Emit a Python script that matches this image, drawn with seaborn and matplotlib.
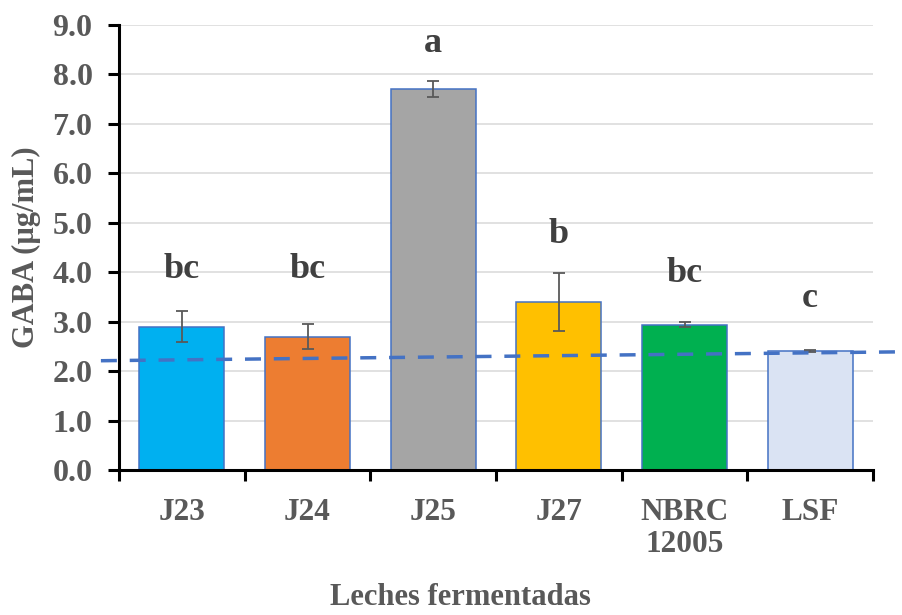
import matplotlib
matplotlib.use("Agg")
import matplotlib.pyplot as plt
import seaborn as sns
import pandas as pd
import numpy as np

categories = ["J23", "J24", "J25", "J27", "NBRC\n12005", "LSF"]
gaba_mean = [2.90, 2.70, 7.70, 3.40, 2.94, 2.41]
gaba_sd = [0.32, 0.25, 0.16, 0.59, 0.05, 0.02]
letters = ["bc", "bc", "a", "b", "bc", "c"]
letter_y = [3.89, 3.89, 8.46, 4.60, 3.81, 3.30]
bar_colors = ["#00B0F0", "#ED7D31", "#A5A5A5", "#FFC000", "#00B050", "#DAE3F3"]
trend_x = [-0.644, 5.73]
trend_y = [2.21, 2.39]
yticks = [0, 1, 2, 3, 4, 5, 6, 7, 8, 9]

sns.set_theme(style="white")
plt.rcParams["font.family"] = ["Liberation Serif", "DejaVu Serif"]
plt.rcParams["font.weight"] = "bold"

df = pd.DataFrame({"cat": categories, "val": gaba_mean})

fig = plt.figure(figsize=(9.02, 6.15), dpi=100)
ax = fig.add_axes([119/902, 1-470/615, (873-119)/902, (470-25)/615])

sns.barplot(data=df, x="cat", y="val", hue="cat", palette=bar_colors,
            order=categories, hue_order=categories, legend=False, saturation=1,
            width=0.676, edgecolor="#4472C4", linewidth=1.1, ax=ax, zorder=2)

x = np.arange(len(categories))
ax.errorbar(x, gaba_mean, yerr=gaba_sd, fmt="none", ecolor="#595959",
            elinewidth=1.3, capsize=4.5, capthick=1.3, zorder=3)

for xi, t, ly in zip(x, letters, letter_y):
    ax.text(xi, ly, t, ha="center", va="baseline", fontsize=26,
            fontweight="bold", color="#404040", zorder=4)

ax.plot(trend_x, trend_y, color="#4472C4", lw=2.5, ls=(0, (4.6, 3.7)),
        clip_on=False, zorder=5)

ax.set_ylim(0, 9)
ax.set_xlim(-0.5, len(categories) - 0.5)
ax.set_yticks(yticks)
ax.set_yticklabels([f"{v:.1f}" for v in yticks])
ax.yaxis.grid(True, color="#D9D9D9", lw=1.1, zorder=0)
ax.set_axisbelow(True)

for s in ["top", "right"]:
    ax.spines[s].set_visible(False)
for s in ["left", "bottom"]:
    ax.spines[s].set_color("black")
    ax.spines[s].set_linewidth(2.2)

ax.tick_params(axis="y", which="major", length=8, width=2.2, color="black",
               direction="out", pad=11, labelsize=23, labelcolor="#595959", left=True)
ax.set_xticks(x)
ax.set_xticklabels(categories, linespacing=1.15)
ax.set_xticks(np.arange(-0.5, len(categories), 1.0), minor=True)
ax.tick_params(axis="x", which="major", length=0, pad=20, labelsize=22.5,
               labelcolor="#595959")
ax.tick_params(axis="x", which="minor", length=8, width=2.2, color="black",
               direction="out", bottom=True)
for lab in ax.get_xticklabels() + ax.get_yticklabels():
    lab.set_fontweight("bold")

ax.set_xlabel("Leches fermentadas", fontsize=22, fontweight="bold", color="#595959")
ax.xaxis.set_label_coords((460 - 119) / 754, (470 - 605) / 445)
ax.xaxis.label.set_va("baseline")
ax.set_ylabel("GABA (µg/mL)", fontsize=22, fontweight="bold", color="#595959")
ax.yaxis.set_label_coords((26 - 119) / 754, 0.5)
ax.yaxis.label.set_va("center")

fig.savefig("out.png", dpi=100)
